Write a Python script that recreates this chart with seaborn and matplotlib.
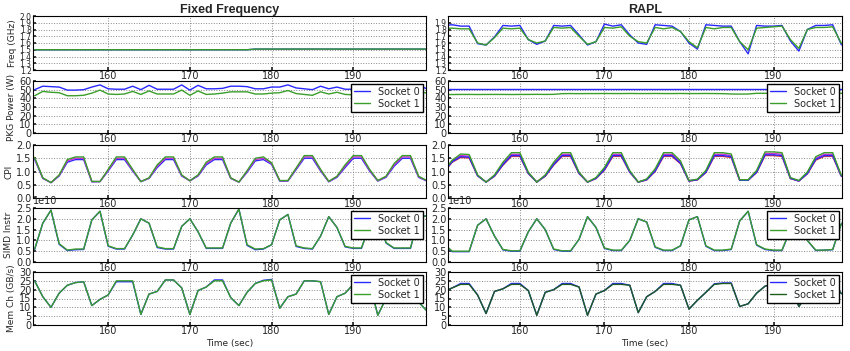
import pandas as pd
import matplotlib
matplotlib.use("Agg")
import matplotlib.pyplot as plt
import seaborn as sns

# time axis (seconds), one sample per second
t_fixed = list(range(151, 200))
t_rapl = list(range(151, 200))

# ---- Fixed Frequency column ----
freq_fixed_s0 = [1.5, 1.5, 1.5, 1.5, 1.5, 1.5, 1.5, 1.5, 1.5, 1.5, 1.5, 1.5, 1.5, 1.5, 1.5, 1.5, 1.5,
                 1.5, 1.5, 1.5, 1.5, 1.5, 1.5, 1.5, 1.5, 1.5, 1.5, 1.51, 1.51, 1.51, 1.51, 1.51, 1.51,
                 1.51, 1.51, 1.51, 1.51, 1.51, 1.51, 1.51, 1.51, 1.51, 1.51, 1.51, 1.51, 1.51, 1.51, 1.51, 1.51]
freq_fixed_s1 = freq_fixed_s0

pkg_fixed_s0 = [50, 54, 53.5, 53, 49.5, 49.5, 50, 53, 55.5, 51, 50.5, 50.5, 54, 50, 55, 50.5, 50.5,
                50.5, 55.5, 49.5, 55, 51, 51, 51.5, 54, 54, 53.5, 51, 51, 53, 53, 55.5, 52, 51, 50,
                54, 51, 53, 50.5, 50.5, 52, 54, 51, 50, 53, 54, 51, 55, 51]
pkg_fixed_s1 = [43, 48, 47, 46.5, 43, 43, 43.5, 46, 49.5, 45, 44.5, 45, 48, 44.5, 48.5, 45, 45, 45,
                49.5, 43.5, 48.5, 44.5, 45, 46, 47.5, 47.5, 47.5, 45, 45, 46, 46.5, 49, 45.5, 44.5,
                43.5, 47.5, 45, 47, 44.5, 44, 45.5, 47.5, 45, 44, 46.5, 47.5, 45, 48, 46]

cpi_fixed_blue = [1.46, 0.74, 0.58, 0.83, 1.35, 1.45, 1.45, 0.61, 0.62, 1.02, 1.45, 1.45, 1.02, 0.62,
                  0.74, 1.15, 1.45, 1.45, 0.83, 0.65, 0.83, 1.25, 1.45, 1.45, 0.74, 0.6, 0.97, 1.4,
                  1.45, 1.27, 0.64, 0.64, 1.07, 1.5, 1.5, 1.02, 0.61, 0.78, 1.15, 1.5, 1.5, 1.02,
                  0.64, 0.78, 1.2, 1.5, 1.5, 0.78, 0.64]
cpi_fixed_magenta = [1.5, 0.75, 0.58, 0.85, 1.4, 1.5, 1.5, 0.62, 0.62, 1.05, 1.5, 1.5, 1.05, 0.62,
                     0.75, 1.2, 1.5, 1.5, 0.85, 0.65, 0.85, 1.3, 1.5, 1.5, 0.75, 0.6, 1.0, 1.45,
                     1.5, 1.3, 0.65, 0.65, 1.1, 1.55, 1.55, 1.05, 0.62, 0.8, 1.2, 1.55, 1.55, 1.05,
                     0.65, 0.8, 1.25, 1.55, 1.55, 0.8, 0.65]
cpi_fixed_green = [1.53, 0.76, 0.58, 0.87, 1.45, 1.55, 1.55, 0.63, 0.62, 1.08, 1.55, 1.55, 1.08, 0.62,
                   0.76, 1.25, 1.55, 1.55, 0.87, 0.65, 0.87, 1.35, 1.55, 1.55, 0.76, 0.6, 1.03, 1.5,
                   1.55, 1.33, 0.66, 0.66, 1.13, 1.6, 1.6, 1.08, 0.63, 0.82, 1.25, 1.6, 1.6, 1.08,
                   0.66, 0.82, 1.3, 1.6, 1.6, 0.82, 0.66]

# SIMD instructions, units of 1e10
simd_fixed_s0 = [0.58, 1.8, 2.4, 0.82, 0.53, 0.57, 0.58, 1.95, 2.35, 0.73, 0.6, 0.6, 1.25, 2.0, 1.8,
                 0.67, 0.6, 0.6, 1.65, 2.0, 1.4, 0.63, 0.63, 0.63, 1.8, 2.45, 0.77, 0.57, 0.6, 0.8,
                 1.95, 2.2, 0.72, 0.63, 0.6, 1.2, 2.1, 1.6, 0.7, 0.63, 0.63, 1.7, 2.3, 0.88, 0.63,
                 0.63, 0.63, 2.05, 2.15]
simd_fixed_s1 = [0.6, 1.8, 2.4, 0.85, 0.55, 0.6, 0.6, 1.95, 2.35, 0.75, 0.62, 0.62, 1.25, 2.0, 1.8,
                 0.7, 0.62, 0.62, 1.65, 2.0, 1.4, 0.65, 0.65, 0.65, 1.8, 2.45, 0.8, 0.6, 0.62, 0.8,
                 1.95, 2.2, 0.75, 0.65, 0.62, 1.2, 2.1, 1.6, 0.72, 0.65, 0.65, 1.7, 2.3, 0.9, 0.65,
                 0.65, 0.65, 2.05, 2.15]

mem_fixed_s0 = [25, 16, 10, 18, 22.5, 24, 24.5, 11, 14.5, 17, 24.5, 24.5, 24.5, 6, 17.5, 19, 25.5,
                25.5, 21, 6, 19.5, 21.5, 25.5, 25.5, 15.5, 11, 18.5, 23.5, 25.3, 25.8, 9.5, 16, 17.5,
                25, 25, 24.5, 6, 16, 18, 23, 25, 24, 5.5, 15, 22, 25, 25, 13, 8]
mem_fixed_s1 = [25, 16, 10, 18, 22.5, 24, 24.5, 11, 14.5, 17, 25, 25, 25, 6, 17.5, 19, 25.5, 25.5,
                21, 6, 19.5, 21.5, 25, 25, 15.5, 11, 18.5, 23.5, 25, 25.5, 9.5, 16, 17.5, 25, 25,
                24.5, 6, 16, 18, 23, 25, 24, 5.5, 15, 22, 25, 25, 13, 8]

# ---- RAPL column ----
freq_rapl_s0 = [1.86, 1.87, 1.85, 1.85, 1.59, 1.57, 1.69, 1.86, 1.85, 1.86, 1.65, 1.58, 1.63, 1.86,
                1.85, 1.86, 1.72, 1.57, 1.62, 1.88, 1.85, 1.87, 1.72, 1.6, 1.58, 1.87, 1.86, 1.85,
                1.77, 1.6, 1.51, 1.87, 1.86, 1.85, 1.85, 1.62, 1.44, 1.86, 1.85, 1.85, 1.86, 1.63,
                1.48, 1.8, 1.86, 1.86, 1.87, 1.58, 1.5]
freq_rapl_s1 = [1.82, 1.82, 1.81, 1.81, 1.6, 1.57, 1.68, 1.82, 1.81, 1.82, 1.65, 1.6, 1.63, 1.83,
                1.82, 1.83, 1.7, 1.58, 1.62, 1.83, 1.82, 1.84, 1.7, 1.62, 1.6, 1.83, 1.81, 1.83,
                1.77, 1.62, 1.53, 1.83, 1.81, 1.83, 1.83, 1.62, 1.5, 1.82, 1.83, 1.84, 1.85, 1.65,
                1.52, 1.8, 1.83, 1.83, 1.84, 1.6, 1.52]

pkg_rapl_s0 = [50.5, 50.5, 50.5, 50.5, 50.5, 50.5, 50.5, 50.5, 50.5, 50.5, 50.5, 50.5, 50.5, 50.5,
               50.5, 50.5, 50.5, 50.5, 50.5, 50.5, 50.5, 50.5, 50.5, 50.5, 50.5, 50.5, 50.5, 50.5,
               50.5, 50.5, 50.5, 50.5, 50.5, 50.5, 50.5, 50.5, 50.5, 50.5, 50.5, 50.5, 50.5, 50.5,
               50.5, 50.5, 50.5, 50.5, 50.5, 50.5, 50.5]
pkg_rapl_s1 = [44.3, 44.4, 44.5, 44.5, 44.4, 44.5, 44.5, 44.5, 44.4, 44.5, 44.5, 44.6, 44.5, 44.6,
               45.4, 45.5, 45.4, 45.5, 45.5, 45.6, 45.5, 45.5, 45.6, 45.5, 45.5, 45.6, 45.5, 45.5,
               45.6, 45.5, 45.5, 45.6, 45.5, 45.4, 45.0, 44.9, 45.0, 45.8, 45.8, 45.9, 45.8, 45.8,
               45.9, 45.8, 45.8, 45.9, 45.8, 45.8, 45.9]

cpi_rapl_red = [0.97, 1.35, 1.53, 1.51, 0.84, 0.6, 0.82, 1.24, 1.57, 1.57, 0.92, 0.6, 0.82, 1.24,
                1.57, 1.57, 0.92, 0.6, 0.73, 1.05, 1.57, 1.57, 0.97, 0.6, 0.68, 1.0, 1.57, 1.57,
                1.29, 0.64, 0.68, 0.96, 1.57, 1.57, 1.53, 0.67, 0.67, 0.96, 1.6, 1.6, 1.57, 0.73,
                0.64, 0.91, 1.43, 1.57, 1.57, 0.83, 0.68]
cpi_rapl_magenta = [1.0, 1.4, 1.6, 1.58, 0.85, 0.6, 0.85, 1.3, 1.65, 1.65, 0.95, 0.6, 0.85, 1.3,
                    1.65, 1.65, 0.95, 0.6, 0.75, 1.1, 1.65, 1.65, 1.0, 0.6, 0.7, 1.05, 1.65, 1.65,
                    1.35, 0.65, 0.7, 1.0, 1.65, 1.65, 1.6, 0.68, 0.68, 1.0, 1.68, 1.68, 1.65, 0.75,
                    0.65, 0.95, 1.5, 1.65, 1.65, 0.85, 0.7]
cpi_rapl_blue = [0.98, 1.37, 1.56, 1.54, 0.84, 0.6, 0.83, 1.26, 1.6, 1.6, 0.93, 0.6, 0.83, 1.26,
                 1.6, 1.6, 0.93, 0.6, 0.74, 1.07, 1.6, 1.6, 0.98, 0.6, 0.69, 1.02, 1.6, 1.6, 1.31,
                 0.64, 0.69, 0.97, 1.6, 1.6, 1.56, 0.67, 0.67, 0.97, 1.63, 1.63, 1.6, 0.74, 0.64,
                 0.92, 1.46, 1.6, 1.6, 0.84, 0.69]
cpi_rapl_green = [1.02, 1.43, 1.66, 1.64, 0.87, 0.6, 0.87, 1.35, 1.71, 1.71, 0.97, 0.6, 0.87, 1.35,
                  1.71, 1.71, 0.97, 0.6, 0.77, 1.15, 1.71, 1.71, 1.03, 0.6, 0.72, 1.1, 1.71, 1.71,
                  1.4, 0.66, 0.71, 1.04, 1.71, 1.71, 1.66, 0.69, 0.69, 1.04, 1.74, 1.74, 1.71, 0.77,
                  0.66, 0.98, 1.56, 1.71, 1.71, 0.87, 0.71]

simd_rapl_s0 = [0.83, 0.48, 0.48, 0.48, 1.7, 2.0, 1.2, 0.56, 0.5, 0.5, 1.4, 2.0, 1.5, 0.58, 0.5,
                0.5, 1.05, 2.1, 1.6, 0.63, 0.53, 0.53, 1.0, 2.0, 1.85, 0.68, 0.53, 0.53, 0.75, 1.95,
                2.1, 0.73, 0.53, 0.53, 0.58, 1.9, 2.35, 0.78, 0.58, 0.53, 0.53, 1.5, 2.0, 1.0, 0.53,
                0.55, 0.57, 1.75, 2.2]
simd_rapl_s1 = [0.85, 0.5, 0.5, 0.5, 1.7, 2.0, 1.2, 0.58, 0.52, 0.52, 1.4, 2.0, 1.5, 0.6, 0.52,
                0.52, 1.05, 2.1, 1.6, 0.65, 0.55, 0.55, 1.0, 2.0, 1.85, 0.7, 0.55, 0.55, 0.75, 1.95,
                2.1, 0.75, 0.55, 0.55, 0.6, 1.9, 2.35, 0.8, 0.6, 0.55, 0.55, 1.5, 2.0, 1.0, 0.55,
                0.55, 0.58, 1.75, 2.2]

mem_rapl_s0 = [19, 21, 23.5, 23.5, 17, 6.5, 19, 20.5, 23.5, 23.5, 19.5, 5.5, 18.5, 20, 23.5, 23.5,
               21.5, 5.5, 17.5, 19.5, 23.5, 23.5, 22.5, 7, 16, 19, 23.5, 23.5, 22.5, 9, 14, 18.5,
               23.3, 23.8, 23.8, 10.5, 12, 18, 22, 23.5, 23.5, 22, 10.5, 17, 21, 23.5, 23.5, 18, 15]
mem_rapl_s1 = [19, 21, 23, 23, 17, 6.5, 19, 20.5, 23, 23, 19.5, 5.5, 18.5, 20, 23, 23, 21.5, 5.5,
               17.5, 19.5, 23, 23, 22.5, 7, 16, 19, 23, 23, 22.5, 9, 14, 18.5, 23, 23.5, 23.5, 10.5,
               12, 18, 22, 23, 23, 22, 10.5, 17, 21, 23, 23, 18, 15]

BLUE = "#2828ff"
GREEN = "#3a9e2a"
DARK_GREEN = "#1d5e1d"

sns.set_theme(style="ticks")
plt.rcParams.update({
    "font.family": ["DejaVu Sans"],
    "font.size": 7,
    "axes.edgecolor": "black",
    "axes.linewidth": 0.8,
    "axes.grid": True,
    "grid.color": "#888888",
    "grid.linestyle": ":",
    "grid.linewidth": 0.7,
    "xtick.labelsize": 7,
    "ytick.labelsize": 7,
    "xtick.major.size": 2,
    "ytick.major.size": 2,
    "xtick.major.pad": 1,
    "ytick.major.pad": 1,
    "xtick.direction": "in",
    "ytick.direction": "in",
})


def draw(ax, t, series, colors, xlim):
    frames = [pd.DataFrame({"t": t, "v": vals, "s": name}) for name, vals in series.items()]
    df = pd.concat(frames, ignore_index=True)
    sns.lineplot(data=df, x="t", y="v", hue="s", palette=colors, ax=ax,
                 legend=False, estimator=None, linewidth=1.0)
    ax.set_xlim(*xlim)
    ax.set_xticks([160, 170, 180, 190])
    ax.set_xlabel("")
    ax.set_ylabel("")
    ax.grid(True)


def add_legend(ax):
    ax.legend(ax.lines[:2], ["Socket 0", "Socket 1"], loc="upper right", fontsize=7,
              frameon=True, fancybox=False, edgecolor="black", framealpha=1,
              borderaxespad=0.3, handlelength=1.6, handletextpad=0.9, borderpad=0.3,
              labelspacing=0.2)


fig = plt.figure(figsize=(8.5, 3.51), dpi=100)

col_x = [(33, 426), (448, 842)]
row_y = [(16, 70), (81, 133), (145, 198), (208, 262), (272, 325)]
W, H = 850, 351


def make_ax(col, row):
    x0, x1 = col_x[col]
    y0, y1 = row_y[row]
    return fig.add_axes([x0 / W, 1 - y1 / H, (x1 - x0) / W, (y1 - y0) / H])


columns = [
    {
        "title": "Fixed Frequency", "t": t_fixed, "xlim": (150.8, 198.9),
        "freq": (freq_fixed_s0, freq_fixed_s1), "pkg": (pkg_fixed_s0, pkg_fixed_s1),
        "cpi": {"c0": cpi_fixed_blue, "c1": cpi_fixed_magenta, "c2": cpi_fixed_green},
        "cpi_colors": [BLUE, "#cc33cc", GREEN],
        "simd": (simd_fixed_s0, simd_fixed_s1), "mem": (mem_fixed_s0, mem_fixed_s1),
        "mem_green": GREEN, "freq_ticks": [1.2, 1.3, 1.4, 1.5, 1.6, 1.7, 1.8, 1.9, 2.0],
    },
    {
        "title": "RAPL", "t": t_rapl, "xlim": (151.5, 198.1),
        "freq": (freq_rapl_s0, freq_rapl_s1), "pkg": (pkg_rapl_s0, pkg_rapl_s1),
        "cpi": {"c0": cpi_rapl_red, "c1": cpi_rapl_magenta, "c2": cpi_rapl_blue, "c3": cpi_rapl_green},
        "cpi_colors": ["#e03030", "#cc33cc", BLUE, GREEN],
        "simd": (simd_rapl_s0, simd_rapl_s1), "mem": (mem_rapl_s0, mem_rapl_s1),
        "mem_green": DARK_GREEN, "freq_ticks": [1.2, 1.3, 1.4, 1.5, 1.6, 1.7, 1.8, 1.9],
    },
]

ylabels = ["Freq (GHz)", "PKG Power (W)", "CPI", "SIMD Instr", "Mem Ch (GB/s)"]

for ci, col in enumerate(columns):
    t = col["t"]
    xlim = col["xlim"]

    ax = make_ax(ci, 0)
    draw(ax, t, {"s0": col["freq"][0], "s1": col["freq"][1]}, [BLUE, GREEN], xlim)
    ax.set_ylim(1.2, 2.0)
    ax.set_yticks(col["freq_ticks"])
    ax.tick_params(axis="y", labelsize=5.5)
    ax.set_title(col["title"], fontsize=9, fontweight="bold", pad=2,
                 family=["Liberation Sans", "DejaVu Sans"])
    if ci == 0:
        ax.set_ylabel(ylabels[0], fontsize=6.5, labelpad=2)

    ax = make_ax(ci, 1)
    draw(ax, t, {"s0": col["pkg"][0], "s1": col["pkg"][1]}, [BLUE, GREEN], xlim)
    ax.set_ylim(0, 60)
    ax.set_yticks(range(0, 61, 10))
    add_legend(ax)
    if ci == 0:
        ax.set_ylabel(ylabels[1], fontsize=6.5, labelpad=2)

    ax = make_ax(ci, 2)
    draw(ax, t, col["cpi"], col["cpi_colors"], xlim)
    ax.set_ylim(0, 2.0)
    ax.set_yticks([0.0, 0.5, 1.0, 1.5, 2.0])
    if ci == 0:
        ax.set_ylabel(ylabels[2], fontsize=6.5, labelpad=2)

    ax = make_ax(ci, 3)
    simd = {"s0": [v * 1e10 for v in col["simd"][0]], "s1": [v * 1e10 for v in col["simd"][1]]}
    draw(ax, t, simd, [BLUE, GREEN], xlim)
    ax.set_ylim(0, 2.5e10)
    ax.set_yticks([0, 0.5e10, 1.0e10, 1.5e10, 2.0e10, 2.5e10])
    ax.yaxis.get_offset_text().set_fontsize(7)
    add_legend(ax)
    if ci == 0:
        ax.set_ylabel(ylabels[3], fontsize=6.5, labelpad=2)

    ax = make_ax(ci, 4)
    draw(ax, t, {"s0": col["mem"][0], "s1": col["mem"][1]}, [BLUE, col["mem_green"]], xlim)
    ax.set_ylim(0, 30)
    ax.set_yticks(range(0, 31, 5))
    add_legend(ax)
    ax.set_xlabel("Time (sec)", fontsize=6.5, labelpad=2)
    if ci == 0:
        ax.set_ylabel(ylabels[4], fontsize=6.5, labelpad=2)

fig.savefig("out.png", dpi=100)
